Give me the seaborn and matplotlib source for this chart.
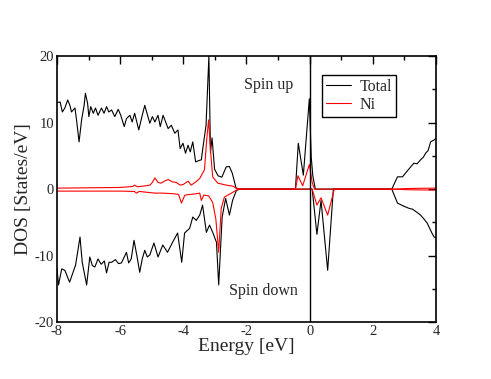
"""
plot.py
- Spin-resolved DOS (total and Ni), redrawn with seaborn.
"""
import matplotlib
matplotlib.use("Agg")
import matplotlib.pyplot as plt
import seaborn as sns
from matplotlib.ticker import MultipleLocator

# spin up, total
e_tot_up = [-8.0, -7.9, -7.83, -7.75, -7.66, -7.59, -7.54, -7.43, -7.38, -7.3, -7.22, -7.14, -7.1,
            -7.03, -6.99, -6.93, -6.85, -6.78, -6.7, -6.59, -6.51, -6.43, -6.36, -6.27, -6.17, -6.06,
            -5.98, -5.87, -5.8, -5.69, -5.62, -5.54, -5.41, -5.31, -5.22, -5.12, -5.06, -4.98, -4.9,
            -4.8, -4.73, -4.64, -4.56, -4.48, -4.38, -4.27, -4.17, -4.1, -4.01, -3.93, -3.85, -3.78,
            -3.7, -3.61, -3.5, -3.43, -3.36, -3.28, -3.19, -3.14, -3.09, -3.01, -2.9, -2.78, -2.64,
            -2.54, -2.45, -2.33, -2.2, -0.45, -0.36, -0.2, -0.01, 0.05, 0.1, 0.18, 2.6, 2.78, 2.94,
            3.05, 3.2, 3.3, 3.4, 3.51, 3.6, 3.67, 3.75, 3.83, 3.94, 4.0]
dos_tot_up = [13.0, 13.1, 11.6, 12.2, 13.4, 12.6, 11.6, 12.2, 10.4, 7.1, 10.4, 12.6, 14.4,
              12.9, 10.9, 12.4, 11.4, 12.2, 11.1, 12.2, 11.4, 12.4, 11.6, 11.9, 10.9, 12.0,
              11.1, 9.4, 10.6, 11.1, 10.1, 11.4, 8.9, 10.9, 12.6, 10.9, 9.9, 10.9, 10.1,
              11.1, 9.4, 11.1, 10.1, 9.1, 9.6, 8.4, 8.9, 6.1, 6.9, 5.4, 6.6, 5.6,
              7.1, 4.1, 4.3, 4.4, 6.9, 9.6, 20.0, 5.5, 7.7, 3.0, 2.0, 1.8, 3.35,
              3.4, 2.4, 0.15, 0.0, 0.0, 6.9, 2.1, 13.6, 4.8, 2.0, 0.0, 0.0, 1.85, 1.85,
              2.5, 3.35, 3.9, 3.8, 4.4, 4.8, 5.4, 5.8, 7.1, 7.4, 7.6]

# spin up, Ni
e_ni_up = [-8.0, -7.0, -6.0, -5.6, -5.55, -5.45, -5.2, -5.06, -4.98, -4.9, -4.8, -4.7, -4.6, -4.48,
           -4.35, -4.22, -4.1, -4.0, -3.85, -3.75, -3.6, -3.48, -3.33, -3.26, -3.2, -3.14, -3.07,
           -2.91, -2.64, -2.43, -2.33, -2.2, -0.45, -0.37, -0.22, -0.01, 0.08, 0.15, 2.6, 3.2, 4.0]
dos_ni_up = [0.15, 0.2, 0.25, 0.4, 0.6, 0.35, 0.5, 0.6, 1.0, 1.7, 1.0, 0.9, 1.2, 1.45,
             1.1, 1.0, 0.6, 0.7, 1.2, 0.6, 1.1, 1.6, 2.9, 7.4, 10.4, 5.9, 1.85,
             0.9, 0.6, 0.45, 0.15, 0.0, 0.0, 2.0, 0.5, 3.7, 1.0, 0.0, 0.0, 0.1, 0.15]

# spin down, total
e_tot_dn = [-8.0, -7.95, -7.85, -7.75, -7.6, -7.41, -7.27, -7.2, -7.06, -6.96, -6.88, -6.8, -6.7,
            -6.6, -6.5, -6.43, -6.35, -6.27, -6.15, -6.05, -5.96, -5.8, -5.73, -5.65, -5.56, -5.47,
            -5.38, -5.3, -5.22, -5.14, -5.06, -4.93, -4.8, -4.65, -4.5, -4.34, -4.18, -4.05, -3.96,
            -3.8, -3.7, -3.59, -3.48, -3.39, -3.27, -3.17, -3.07, -2.95, -2.88, -2.77, -2.66, -2.54,
            -2.44, -2.32, -2.22, 0.08, 0.23, 0.36, 0.57, 0.75, 2.6, 2.78, 2.95, 3.15, 3.25, 3.4,
            3.51, 3.62, 3.72, 3.87, 3.94, 4.0]
dos_tot_dn = [-11.9, -14.4, -12.0, -12.2, -14.0, -11.4, -7.2, -11.0, -14.4, -10.2, -11.5, -11.7, -10.5,
              -11.3, -10.8, -12.6, -11.0, -11.0, -10.6, -11.2, -11.1, -9.5, -11.1, -10.5, -7.7, -10.0,
              -12.5, -10.5, -9.2, -10.2, -9.9, -8.1, -10.2, -8.4, -9.5, -8.0, -6.6, -11.0, -6.6,
              -5.9, -4.2, -4.7, -3.9, -2.4, -6.5, -5.4, -6.5, -8.0, -14.4, -4.2, -1.4, -3.9,
              -1.7, -0.2, 0.0, 0.0, -6.8, -1.7, -12.2, 0.0, 0.0, -2.1, -2.5, -2.9, -3.0, -3.5,
              -3.9, -4.5, -5.1, -6.6, -7.2, -7.3]

# spin down, Ni
e_ni_dn = [-8.0, -6.0, -5.55, -5.48, -5.4, -5.1, -4.9, -4.65, -4.3, -4.15, -4.06, -3.95, -3.6,
           -3.48, -3.43, -3.35, -3.2, -3.07, -2.97, -2.88, -2.8, -2.7, -2.44, -2.3, -2.2, 0.08,
           0.23, 0.36, 0.57, 0.78, 2.6, 3.2, 4.0]
dos_ni_dn = [-0.3, -0.3, -0.35, -0.6, -0.35, -0.5, -0.6, -0.6, -0.7, -0.8, -2.1, -0.9, -0.7,
             -0.6, -1.7, -0.9, -1.0, -2.0, -4.5, -9.5, -2.9, -1.2, -0.5, -0.1, 0.0, 0.0,
             -2.4, -1.3, -3.9, 0.0, 0.0, -0.1, -0.15]

sns.set_style("white")
plt.rcParams["font.family"] = ["Liberation Serif", "DejaVu Serif"]
plt.rcParams["axes.unicode_minus"] = False

fig = plt.figure(figsize=(4.91, 3.79), dpi=100)
ax = fig.add_axes([0.116, 0.150, 0.772, 0.702])

lw = 0.8
sns.lineplot(x=e_tot_up, y=dos_tot_up, ax=ax, color="black", lw=lw, estimator=None, sort=False, label="Total")
sns.lineplot(x=e_tot_dn, y=dos_tot_dn, ax=ax, color="black", lw=lw, estimator=None, sort=False)
sns.lineplot(x=e_ni_up, y=dos_ni_up, ax=ax, color="red", lw=lw, estimator=None, sort=False, label="Ni")
sns.lineplot(x=e_ni_dn, y=dos_ni_dn, ax=ax, color="red", lw=lw, estimator=None, sort=False)
ax.axvline(0, color="black", lw=1.0)

ax.set_xlim(-8, 4)
ax.set_ylim(-20, 20)
ax.xaxis.set_major_locator(MultipleLocator(2))
ax.xaxis.set_minor_locator(MultipleLocator(1))
ax.yaxis.set_major_locator(MultipleLocator(10))
ax.yaxis.set_minor_locator(MultipleLocator(5))
ax.tick_params(which="both", direction="in", top=True, right=True, labelsize=10.5, pad=2, width=1, color="black")
ax.tick_params(which="major", length=6)
ax.tick_params(which="minor", length=3)
for s in ax.spines.values():
    s.set_color("black")
    s.set_linewidth(1.2)

ax.set_xlabel("Energy [eV]", fontsize=14, labelpad=0)
ax.set_ylabel("DOS [States/eV]", fontsize=14, labelpad=2)

ax.text(-1.31, 15.6, "Spin up", fontsize=11.5, ha="center", va="center")
ax.text(-1.46, -15.3, "Spin down", fontsize=11.5, ha="center", va="center")

leg = ax.legend(loc="upper left", bbox_to_anchor=(0.699, 0.929), fontsize=11.5, frameon=True,
                fancybox=False, edgecolor="black", framealpha=1, handlelength=1.6,
                borderpad=0.25, labelspacing=0.1, handletextpad=0.5, borderaxespad=0)
leg.get_frame().set_linewidth(1.0)

fig.savefig("out.png", dpi=100)
